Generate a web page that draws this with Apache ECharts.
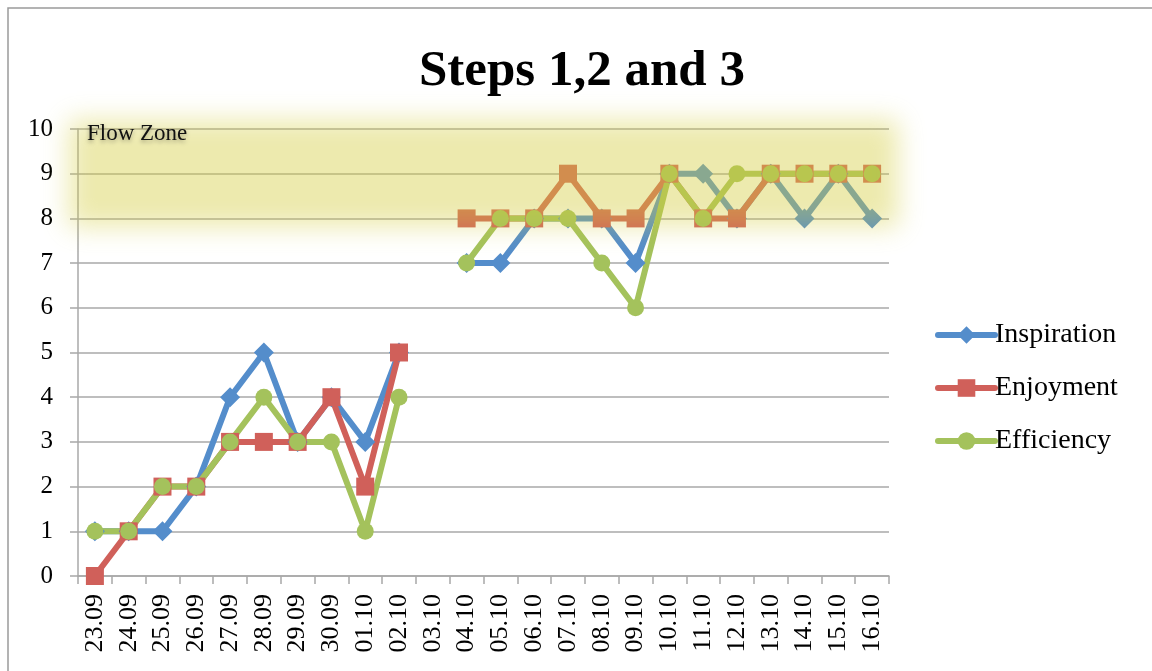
<!DOCTYPE html>
<html>
<head>
<meta charset="utf-8">
<style>
  html, body { margin: 0; padding: 0; background: #ffffff; }
  #chart { width: 1152px; height: 671px; }
</style>
<script src="https://cdn.jsdelivr.net/npm/echarts@6/dist/echarts.min.js"></script>
</head>
<body>
<div id="chart"></div>
<script>
// Daily ratings (0-10); 03.10 has no entry
const days = ['23.09', '24.09', '25.09', '26.09', '27.09', '28.09', '29.09', '30.09', '01.10', '02.10',
  '03.10', '04.10', '05.10', '06.10', '07.10', '08.10', '09.10', '10.10', '11.10', '12.10',
  '13.10', '14.10', '15.10', '16.10'];
const inspiration = [1, 1, 1, 2, 4, 5, 3, 4, 3, 5, null, 7, 7, 8, 8, 8, 7, 9, 9, 8, 9, 8, 9, 8];
const enjoyment   = [0, 1, 2, 2, 3, 3, 3, 4, 2, 5, null, 8, 8, 8, 9, 8, 8, 9, 8, 8, 9, 9, 9, 9];
const efficiency  = [1, 1, 2, 2, 3, 4, 3, 3, 1, 4, null, 7, 8, 8, 8, 7, 6, 9, 8, 9, 9, 9, 9, 9];
const yTicks = [0, 10, 1];           // min, max, step
const flowZone = [8, 10];            // band of ratings marked as "Flow Zone"

const serif = '"Liberation Serif", "DejaVu Serif", serif';
const gridGray = '#a8a8a8';

function lineSeries(name, data, color, symbol, size) {
  return {
    name: name,
    type: 'line',
    data: data,
    connectNulls: false,
    symbol: symbol,
    symbolSize: size,
    showAllSymbol: true,
    lineStyle: { width: 6, color: color, join: 'round' },
    itemStyle: { color: color },
    emphasis: { disabled: true },
    animation: false,
    z: 3
  };
}

// Glowing translucent band drawn over the lines. The rectangle itself is
// pushed far off-canvas; only its blurred shadow lands on the plot, which
// gives a soft edge without doubling the tint inside the band.
const GLOW_SHIFT = 3000;
function renderFlowZone(params, api) {
  const cs = params.coordSys;
  const yTop = api.coord([0, api.value(1)])[1];
  const yBot = api.coord([0, api.value(0)])[1];
  const pad = 9;
  return {
    type: 'group',
    children: [
      {
        type: 'rect',
        silent: true,
        shape: {
          x: cs.x - pad,
          y: yTop - pad - GLOW_SHIFT,
          width: cs.width + 2 * pad,
          height: yBot - yTop + 2 * pad
        },
        style: {
          fill: '#000',
          shadowBlur: 24,
          shadowOffsetX: 0,
          shadowOffsetY: GLOW_SHIFT,
          shadowColor: 'rgba(212, 206, 62, 0.42)'
        }
      },
      {
        type: 'text',
        silent: true,
        x: cs.x + 9,
        y: yTop - 7,
        style: {
          text: 'Flow Zone',
          font: '23px ' + serif,
          fill: '#111',
          textShadowColor: 'rgba(0,0,0,0.35)',
          textShadowBlur: 4,
          textShadowOffsetY: 2
        }
      }
    ]
  };
}

const chart = echarts.init(document.getElementById('chart'), null, { renderer: 'canvas' });

chart.setOption({
  backgroundColor: '#ffffff',
  animation: false,
  title: {
    text: 'Steps 1,2 and 3',
    left: 414,
    top: 41,
    textStyle: { fontFamily: serif, fontWeight: 'bold', fontSize: 51, color: '#000' }
  },
  graphic: [{
    type: 'rect',
    z: -1,
    silent: true,
    shape: { x: 8, y: 8, width: 1200, height: 700 },
    style: { fill: 'none', stroke: '#9a9a9a', lineWidth: 1.5 }
  }],
  legend: {
    orient: 'vertical',
    left: 930,
    top: 316,
    itemWidth: 57,
    itemHeight: 22,
    itemGap: 25,
    data: ['Inspiration', 'Enjoyment', 'Efficiency'],
    lineStyle: { width: 6, cap: 'round' },
    textStyle: { fontFamily: serif, fontSize: 28, color: '#000', lineHeight: 28, padding: [0, 0, 0, -5] }
  },
  grid: { left: 78, right: 263, top: 129, bottom: 95, containLabel: false },
  xAxis: {
    type: 'category',
    data: days,
    boundaryGap: true,
    axisLine: { lineStyle: { color: gridGray, width: 1.5 } },
    axisTick: { show: true, length: 8, inside: false, lineStyle: { color: gridGray, width: 1.5 } },
    axisLabel: { rotate: 90, interval: 0, margin: 18, fontFamily: serif, fontSize: 26, color: '#000' },
    splitLine: { show: false }
  },
  yAxis: {
    type: 'value',
    min: yTicks[0],
    max: yTicks[1],
    interval: yTicks[2],
    axisLine: { show: true, lineStyle: { color: gridGray, width: 1.5 } },
    axisTick: { show: true, length: 8, lineStyle: { color: gridGray, width: 1.5 } },
    axisLabel: { margin: 25, fontFamily: serif, fontSize: 25, color: '#000' },
    splitLine: { show: true, lineStyle: { color: gridGray, width: 1.5 } }
  },
  series: [
    lineSeries('Inspiration', inspiration, '#548dcb', 'diamond', 20),
    lineSeries('Enjoyment', enjoyment, '#d0605a', 'rect', 18),
    lineSeries('Efficiency', efficiency, '#a4c25c', 'circle', 17),
    {
      name: 'Flow Zone',
      type: 'custom',
      coordinateSystem: 'cartesian2d',
      clip: false,
      silent: true,
      z: 10,
      renderItem: renderFlowZone,
      data: [[flowZone[0], flowZone[1]]],
      encode: { x: -1, y: [0, 1] }
    }
  ]
});
</script>
</body>
</html>
